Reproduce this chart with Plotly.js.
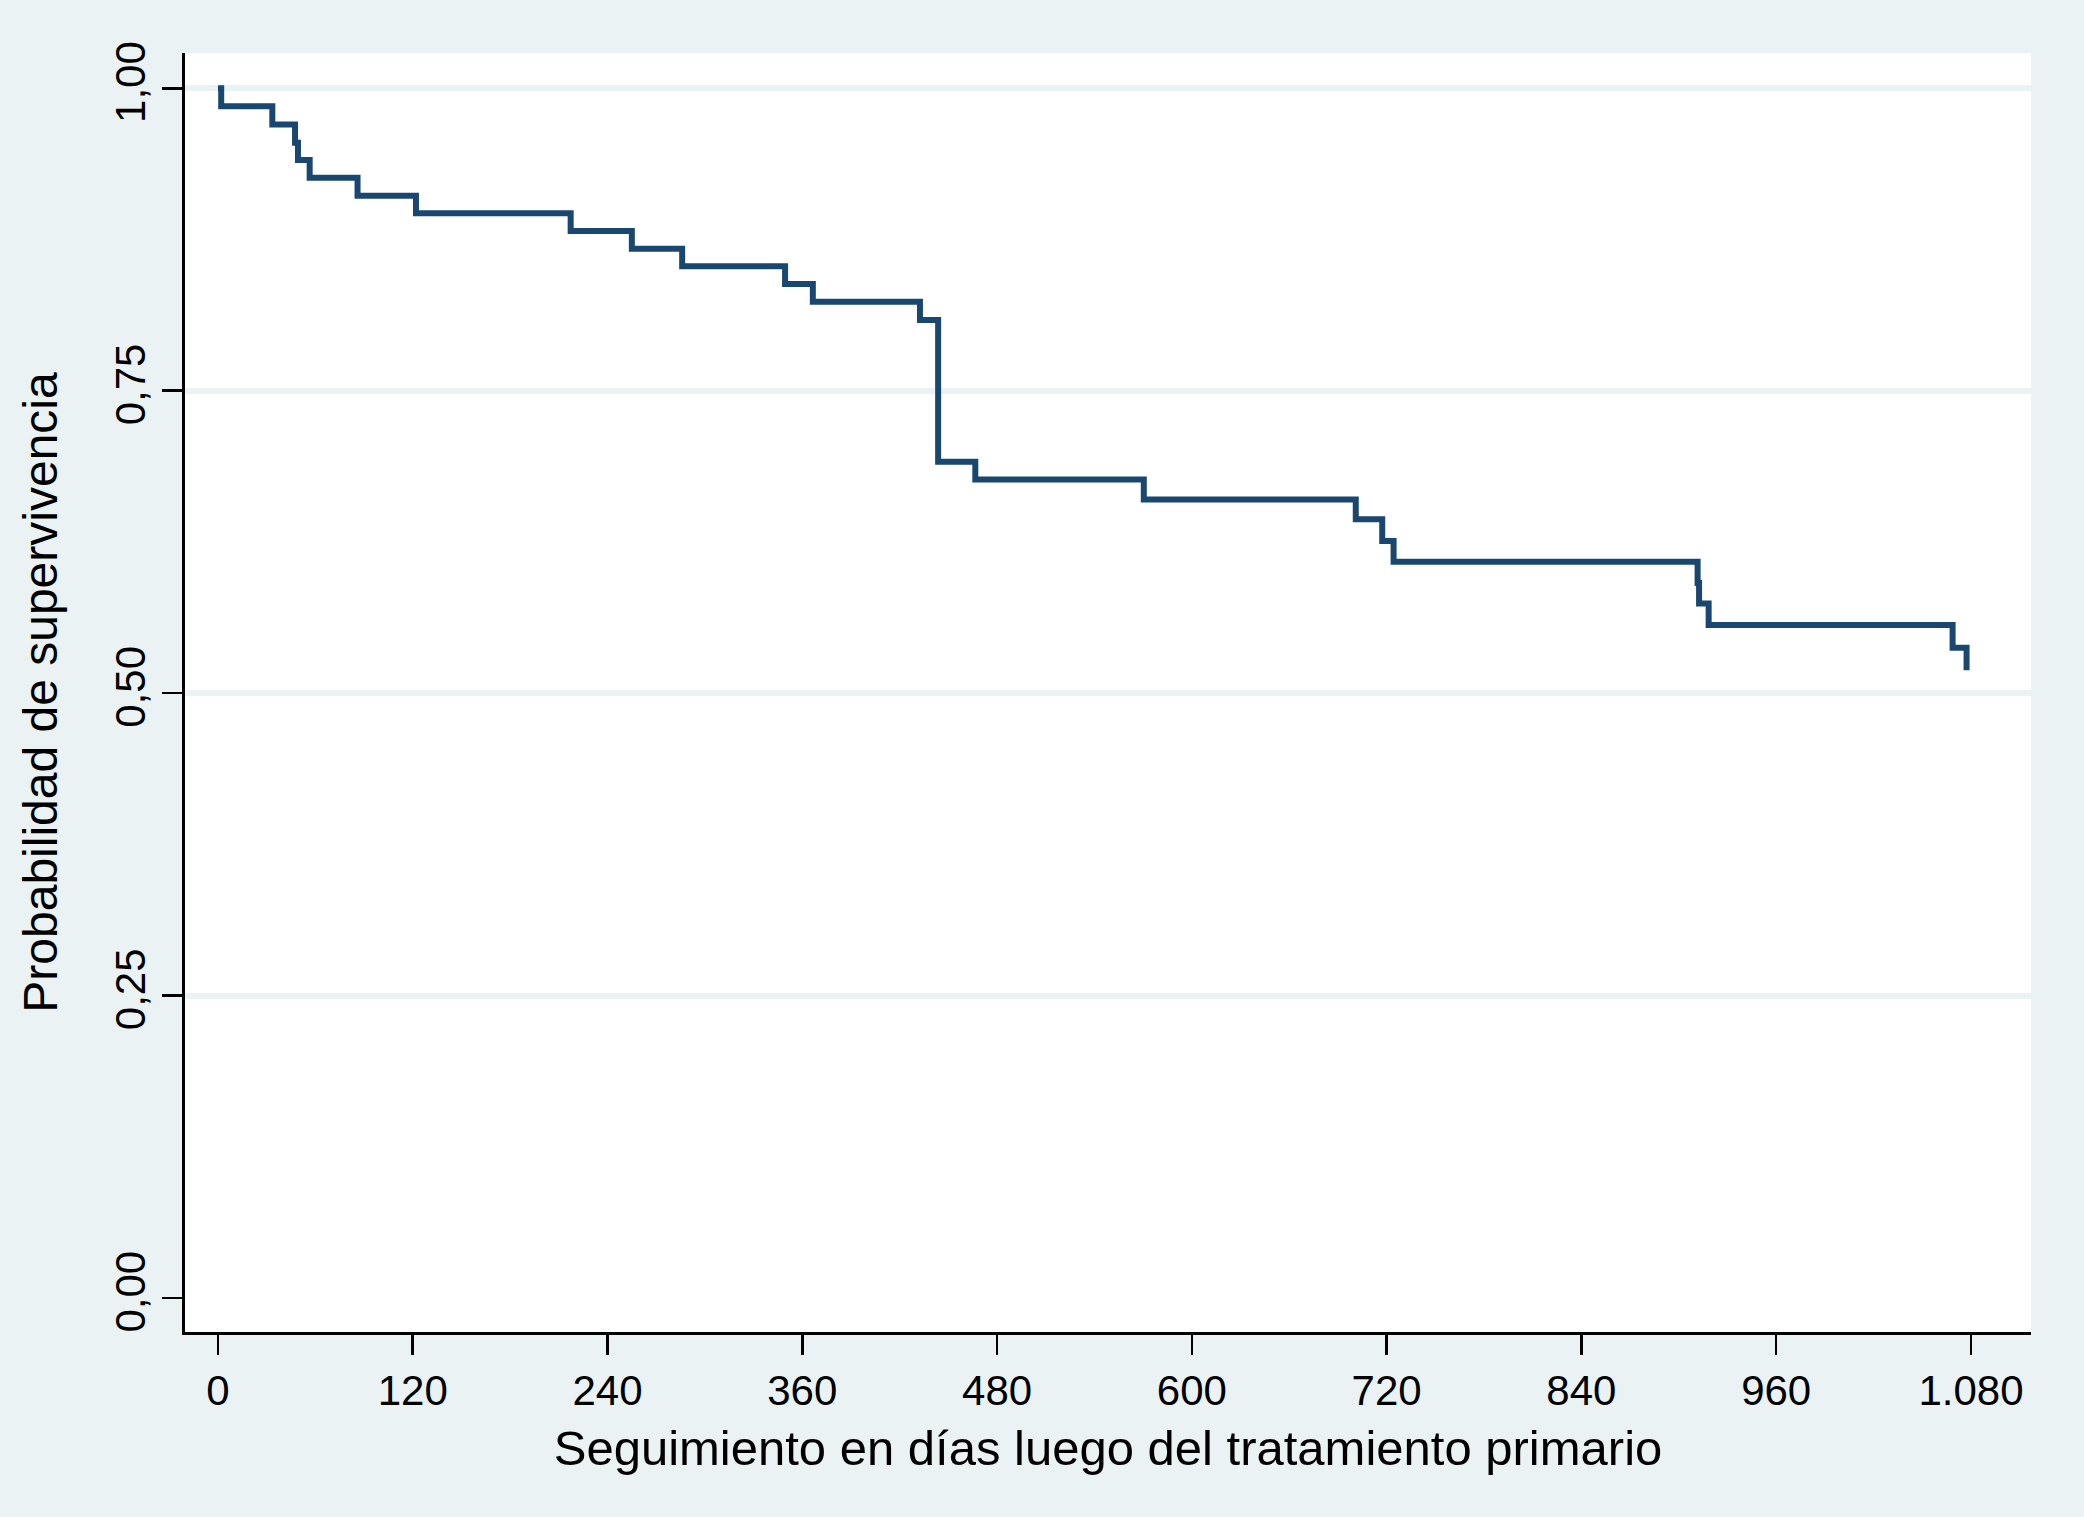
<!DOCTYPE html>
<html>
<head>
<meta charset="utf-8">
<script src="https://cdn.plot.ly/plotly-3.0.1.min.js"></script>
<style>html,body{margin:0;padding:0;background:#eaf2f3;}#chart{width:2084px;height:1517px;}</style>
</head>
<body>
<div id="chart"></div>
<script>
// Kaplan-Meier step curve (days, survival probability after each step)
var days = [0, 2, 33.5, 47.5, 49.3, 56.5, 86, 122, 217.3, 255, 286, 349.4, 366.5, 432.5, 443.7, 466.6, 570.4, 701, 717.3, 724.3, 911.6, 912.5, 918.4, 1068.7, 1077.3];
var survival = [1.0, 0.9851, 0.970, 0.955, 0.9407, 0.926, 0.9112, 0.8967, 0.882, 0.8674, 0.853, 0.8382, 0.8236, 0.8085, 0.6913, 0.6767, 0.660, 0.6437, 0.6257, 0.6086, 0.591, 0.5742, 0.5563, 0.5375, 0.519];

var xTickVals = [0, 120, 240, 360, 480, 600, 720, 840, 960, 1080];
var xTickText = ["0", "120", "240", "360", "480", "600", "720", "840", "960", "1.080"];
var yTickVals = [0, 0.25, 0.5, 0.75, 1.0];
var yTickText = ["0,00", "0,25", "0,50", "0,75", "1,00"];

var xTitle = "Seguimiento en días luego del tratamiento primario";
var yTitle = "Probabilidad de supervivencia";

var font = "Liberation Sans, Arial, Helvetica, sans-serif";

var trace = {
  x: days,
  y: survival,
  type: "scatter",
  mode: "lines",
  line: {shape: "hv", color: "#1a476f", width: 6},
  hoverinfo: "skip"
};

var layout = {
  width: 2084,
  height: 1517,
  paper_bgcolor: "#eaf2f3",
  plot_bgcolor: "#ffffff",
  margin: {l: 185, r: 53, t: 53, b: 185},
  showlegend: false,
  xaxis: {
    range: [-20.3, 1117],
    tickvals: xTickVals,
    ticktext: xTickText,
    ticks: "outside",
    ticklen: 20,
    tickwidth: 2.5,
    tickcolor: "#000",
    showline: true,
    linecolor: "#000",
    linewidth: 3,
    showgrid: false,
    zeroline: false,
    tickfont: {family: font, size: 42, color: "#000"},
    title: {text: xTitle, font: {family: font, size: 49, color: "#000"}, standoff: 18}
  },
  yaxis: {
    range: [-0.0281, 1.0292],
    tickvals: yTickVals,
    ticktext: yTickText,
    tickangle: -90,
    ticks: "outside",
    ticklen: 20,
    tickwidth: 2.5,
    tickcolor: "#000",
    showline: true,
    linecolor: "#000",
    linewidth: 3,
    showgrid: true,
    gridcolor: "#eaf2f3",
    gridwidth: 6,
    zeroline: true,
    zerolinecolor: "#ffffff",
    zerolinewidth: 1,
    tickfont: {family: font, size: 42, color: "#000"},
    title: {text: yTitle, font: {family: font, size: 48, color: "#000"}, standoff: 35}
  }
};

Plotly.newPlot("chart", [trace], layout, {staticPlot: true, displayModeBar: false});
</script>
</body>
</html>
